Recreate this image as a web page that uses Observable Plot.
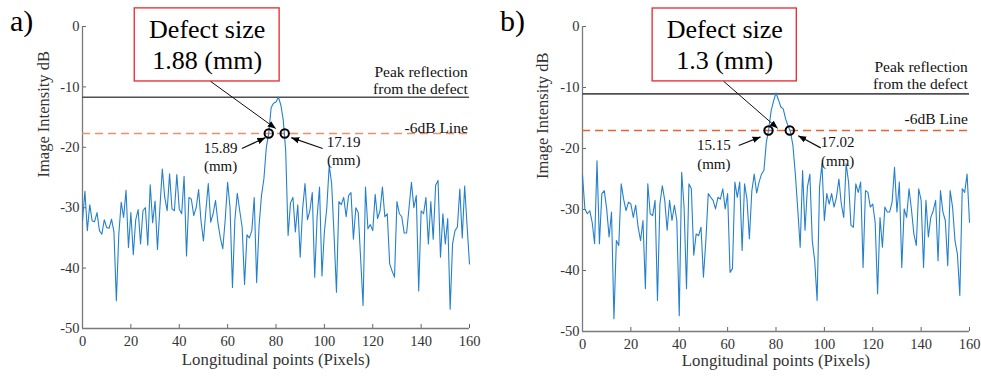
<!DOCTYPE html>
<html><head><meta charset="utf-8">
<script src="https://cdn.jsdelivr.net/npm/d3@7"></script>
<script src="https://cdn.jsdelivr.net/npm/@observablehq/plot@0.6"></script>
<style>
body{margin:0;background:#fff;}
#wrap{position:relative;width:981px;height:381px;overflow:hidden;font-family:"Liberation Serif","Times New Roman",Times,"DejaVu Serif",serif;}
.panel{position:absolute;top:0;}
.plabel{position:absolute;top:6px;font-size:30px;color:#000;line-height:1;}
</style></head><body>
<div id="wrap"></div>
<script>
// ---- data ----
const xTicks = [0, 20, 40, 60, 80, 100, 120, 140, 160];
const yTicks = [-50, -40, -30, -20, -10, 0];
const panelNames = ["a)", "b)"];
const xLabel = "Longitudinal points (Pixels)";
const yLabel = "Image Intensity dB";

const intensityA = [
-32.2,-27.3,-33.8,-29.5,-32.2,-32.3,-30.8,-33.8,-34.4,-32.0,
-33.3,-33.4,-31.9,-34.0,-45.4,-34.5,-29.1,-31.6,-27.1,-36.6,
-30.8,-37.8,-32.0,-30.3,-36.0,-30.5,-30.0,-36.2,-26.2,-32.5,
-28.9,-36.9,-30.0,-23.6,-28.3,-30.5,-24.4,-30.2,-30.5,-24.5,
-30.2,-31.0,-24.8,-38.0,-28.3,-28.6,-31.3,-30.0,-27.0,-32.2,
-35.5,-30.5,-26.0,-32.4,-31.0,-28.8,-32.5,-35.0,-36.8,-32.0,
-25.8,-30.0,-43.2,-32.0,-27.6,-30.5,-33.2,-42.7,-34.5,-35.0,
-33.8,-28.3,-42.4,-33.0,-28.0,-25.2,-20.0,-17.7,-13.4,-12.7,
-12.5,-11.7,-13.0,-15.5,-20.5,-34.6,-29.2,-28.3,-34.0,-29.5,
-38.2,-30.2,-26.0,-32.0,-30.5,-27.5,-41.5,-31.5,-26.6,-41.3,
-34.0,-30.0,-23.0,-26.0,-34.5,-44.0,-29.0,-29.5,-28.3,-31.5,
-28.0,-27.5,-35.2,-30.0,-30.8,-38.5,-46.2,-26.6,-33.5,-32.8,
-33.8,-27.8,-31.8,-30.5,-26.6,-31.5,-31.0,-39.3,-40.5,-41.5,
-29.0,-31.0,-31.5,-34.2,-34.2,-30.0,-25.8,-30.0,-28.0,-43.8,
-30.5,-31.0,-28.3,-36.0,-29.0,-35.2,-26.3,-25.5,-38.2,-31.0,
-36.0,-31.8,-46.8,-36.0,-33.8,-33.2,-26.9,-35.0,-26.4,-33.0,
-39.3];

const intensityB = [
-24.4,-29.9,-30.7,-30.2,-32.1,-35.6,-22.0,-35.6,-27.4,-26.9,
-29.9,-34.5,-30.4,-47.9,-35.1,-35.9,-25.8,-28.3,-30.2,-28.8,
-29.1,-31.3,-29.3,-32.9,-35.1,-31.8,-43.0,-25.8,-30.7,-31.0,
-28.5,-44.9,-29.1,-26.1,-28.5,-33.4,-28.5,-31.8,-29.3,-31.8,
-47.4,-23.9,-29.6,-43.0,-25.8,-26.6,-37.5,-34.0,-34.3,-32.9,
-41.1,-35.1,-27.4,-28.0,-28.5,-29.9,-28.0,-28.3,-26.6,-29.9,
-27.4,-40.3,-39.7,-25.5,-28.0,-25.5,-36.7,-25.8,-28.3,-34.8,
-27.0,-24.2,-27.3,-25.5,-24.2,-23.6,-19.0,-16.8,-13.8,-12.2,
-10.9,-12.0,-13.2,-13.5,-15.2,-16.3,-17.3,-19.5,-24.2,-30.0,
-36.2,-23.6,-33.4,-26.3,-24.2,-35.1,-38.4,-44.9,-26.3,-22.5,
-31.8,-27.4,-29.1,-27.4,-29.6,-28.0,-25.0,-29.1,-31.3,-22.5,
-25.5,-32.6,-32.9,-25.8,-27.2,-25.5,-39.5,-26.9,-27.2,-29.6,
-29.1,-32.1,-43.8,-31.3,-36.2,-29.6,-30.4,-30.4,-28.8,-23.1,
-30.4,-25.5,-39.5,-29.9,-31.3,-26.6,-30.0,-34.0,-35.9,-26.6,
-28.5,-39.5,-28.5,-34.5,-31.3,-30.2,-28.5,-38.4,-26.9,-30.4,
-31.8,-39.2,-26.9,-29.6,-35.1,-37.3,-44.1,-26.6,-27.2,-24.2,
-32.1];

const peakLevels = [-11.72, -11.05];
const sixDbLevels = [-17.72, -17.05];
const crossingsA = [77.0, 83.6];
const crossingsB = [76.9, 85.7];
const edgeValuesA = ["15.89", "17.19"];
const edgeValuesB = ["15.15", "17.02"];
const defectSizes = ["1.88 (mm)", "1.3 (mm)"];
const sixDbColors = ["#f0906a", "#e8642f"];

// annotation anchor points, in data units (pixel index, dB)
const boxA = [21.6, 81.5, 3.0, -9.1];
const boxB = [29.0, 88.6, 2.95, -9.0];
const bigArrowA = [53.0, -9.1, 79.9, -16.9];
const bigArrowB = [58.4, -9.0, 80.7, -16.7];
const leftArrowA = [65.9, -20.2, 75.6, -18.4];
const rightArrowA = [99.3, -20.2, 86.3, -18.4];
const leftArrowB = [64.6, -19.5, 73.6, -18.1];
const rightArrowB = [98.5, -19.9, 89.2, -17.9];
const leftTextA = [57.1, -20.1, -23.05];
const rightTextA = [108.0, -19.2, -22.2];
const leftTextB = [54.3, -19.5, -22.5];
const rightTextB = [105.5, -19.0, -22.0];
const peakTextA = [159.3, -7.5, -10.4, -16.75];
const peakTextB = [159.3, -6.7, -9.5, -15.1];

// ---- drawing ----
function filledArrow(color) {
  const m = d3.create("svg:marker")
    .attr("viewBox", "-8 -4 8 8")
    .attr("markerWidth", 8).attr("markerHeight", 8)
    .attr("markerUnits", "userSpaceOnUse")
    .attr("orient", "auto")
    .attr("fill", "black").attr("stroke", "none");
  m.append("path").attr("d", "M-8,-3.2L0,0L-8,3.2Z");
  return m.node();
}

const serif = "'Liberation Serif', 'Times New Roman', Times, 'DejaVu Serif', serif";

function makePanel(cfg) {
  const {values, peak, sixDb, crossings, edgeValues, size, dashColor, box, bigArrow, leftArrow, rightArrow, leftText, rightText, peakText, layout} = cfg;
  const boxCx = (box[0] + box[1]) / 2;
  return Plot.plot({
    width: layout.width, height: 381,
    marginLeft: layout.ml, marginRight: layout.mr, marginTop: 26, marginBottom: layout.mb,
    style: {fontFamily: serif, fontSize: "14px", color: "#333", background: "transparent", overflow: "visible"},
    x: {domain: [0, 160]},
    y: {domain: [-50, 0]},
    marks: [
      Plot.axisX({ticks: xTicks, tickSize: -4, tickPadding: 11, tickFormat: d => String(d), label: null, fontSize: 14.5, stroke: "#666"}),
      Plot.axisY({ticks: yTicks, tickSize: -4, tickPadding: 7, tickFormat: d => String(d), label: null, fontSize: 14.5, stroke: "#666"}),
      Plot.ruleX([0], {stroke: "#7a7a7a", strokeWidth: 1.3}),
      Plot.ruleY([-50], {stroke: "#7a7a7a", strokeWidth: 1.3}),
      Plot.text([xLabel], {frameAnchor: "bottom", dy: layout.xLabelDy, fontSize: 16.8, fill: "#333"}),
      Plot.text([yLabel], {frameAnchor: "left", dx: layout.yLabelDx, rotate: -90, fontSize: 16.5, fill: "#333"}),
      Plot.ruleY([peak], {x1: 0, x2: 160, stroke: "#505050", strokeWidth: 1.6}),
      Plot.ruleY([sixDb], {x1: 0, x2: 160, stroke: dashColor, strokeWidth: 1.5, strokeDasharray: "8,5"}),
      Plot.line(values, {x: (d, i) => i, y: d => d, stroke: "#2580cc", strokeWidth: 1.1}),
      Plot.dot(crossings, {x: d => d, y: sixDb, r: 4.2, stroke: "black", strokeWidth: 2, fill: "none"}),
      Plot.text(["Peak reflection", "from the defect"], {x: peakText[0], y: (d, i) => peakText[1 + i], textAnchor: "end", fontSize: 15.5, fill: "#111"}),
      Plot.text(["-6dB Line"], {x: peakText[0], y: peakText[3], textAnchor: "end", fontSize: 15.5, fill: "#111"}),
      Plot.text([edgeValues[0], "(mm)"], {x: leftText[0], y: (d, i) => leftText[1 + i], fontSize: 15, fill: "#111"}),
      Plot.text([edgeValues[1], "(mm)"], {x: rightText[0], y: (d, i) => rightText[1 + i], fontSize: 15, fill: "#111"}),
      Plot.link([leftArrow, rightArrow], {x1: d => d[0], y1: d => d[1], x2: d => d[2], y2: d => d[3], stroke: "#111", strokeWidth: 1.2, markerEnd: filledArrow}),
      Plot.rect([box], {x1: d => d[0], x2: d => d[1], y1: d => d[2], y2: d => d[3], stroke: "#e8262c", strokeWidth: 1.3, fill: "white"}),
      Plot.text(["Defect size", size], {x: boxCx, y: (d, i) => [-0.5, -5.6][i], fontSize: 26, fill: "#000"}),
      Plot.link([bigArrow], {x1: d => d[0], y1: d => d[1], x2: d => d[2], y2: d => d[3], stroke: "#111", strokeWidth: 1, markerEnd: filledArrow})
    ]
  });
}

const wrap = document.getElementById("wrap");
const panels = [
  {values: intensityA, peak: peakLevels[0], sixDb: sixDbLevels[0], crossings: crossingsA, edgeValues: edgeValuesA,
   size: defectSizes[0], dashColor: sixDbColors[0], box: boxA, bigArrow: bigArrowA, leftArrow: leftArrowA, rightArrow: rightArrowA,
   leftText: leftTextA, rightText: rightTextA, peakText: peakTextA,
   layout: {left: 0, width: 490, ml: 82, mr: 21, mb: 53, xLabelDy: 36, yLabelDx: -39}},
  {values: intensityB, peak: peakLevels[1], sixDb: sixDbLevels[1], crossings: crossingsB, edgeValues: edgeValuesB,
   size: defectSizes[1], dashColor: sixDbColors[1], box: boxB, bigArrow: bigArrowB, leftArrow: leftArrowB, rightArrow: rightArrowB,
   leftText: leftTextB, rightText: rightTextB, peakText: peakTextB,
   layout: {left: 490, width: 491, ml: 92, mr: 12, mb: 50, xLabelDy: 34, yLabelDx: -40}}
];
panels.forEach((cfg, k) => {
  const div = document.createElement("div");
  div.className = "panel";
  div.style.left = cfg.layout.left + "px";
  div.appendChild(makePanel(cfg));
  wrap.appendChild(div);
  const lab = document.createElement("div");
  lab.className = "plabel";
  lab.style.left = (cfg.layout.left + 10) + "px";
  lab.textContent = panelNames[k];
  wrap.appendChild(lab);
});
</script>
</body></html>
